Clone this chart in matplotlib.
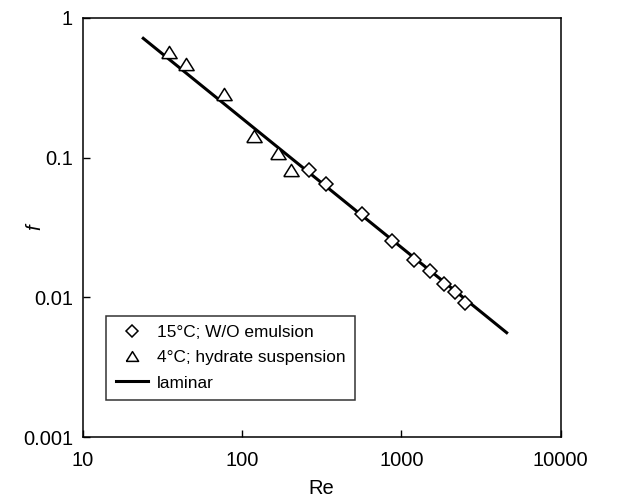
import matplotlib
matplotlib.use("Agg")
import matplotlib.pyplot as plt
from matplotlib.ticker import NullLocator

plt.rcParams['font.family'] = ['Liberation Sans', 'DejaVu Sans']

# dados
re_emulsao = [262, 336, 570, 873, 1200, 1513, 1860, 2171, 2508]
f_emulsao = [0.0815, 0.0648, 0.0394, 0.0255, 0.01854, 0.01554, 0.01243, 0.0110, 0.00909]

re_hidrato = [35, 44.3, 76.7, 119, 169, 202]
f_hidrato = [0.571, 0.469, 0.286, 0.1427, 0.1073, 0.0815]

re_laminar = [24.0, 4580]
f_laminar = [0.712, 0.0056]

x_ticks = [10, 100, 1000, 10000]
x_labels = ['10', '100', '1000', '10000']
y_ticks = [0.001, 0.01, 0.1, 1]
y_labels = ['0.001', '0.01', '0.1', '1']

fig = plt.figure(figsize=(6.23, 4.96), dpi=100)
ax = fig.add_axes([0.1327, 0.1183, 0.7673, 0.846])

tri = [(-1, -0.8), (1, -0.8), (0, 0.8), (-1, -0.8)]

ax.plot(re_emulsao, f_emulsao, linestyle='none', marker='D', markersize=7.3,
        markerfacecolor='white', markeredgecolor='black', markeredgewidth=1.1,
        label='15°C; W/O emulsion', zorder=3)
ax.plot(re_hidrato, f_hidrato, linestyle='none', marker=tri, markersize=11,
        markerfacecolor='white', markeredgecolor='black', markeredgewidth=1.1,
        label='4°C; hydrate suspension', zorder=3)
ax.plot(re_laminar, f_laminar, color='black', linewidth=2.2, label='laminar', zorder=2)

ax.set_xscale('log')
ax.set_yscale('log')
ax.set_xlim(10, 10000)
ax.set_ylim(0.001, 1)
ax.set_xticks(x_ticks, x_labels)
ax.set_yticks(y_ticks, y_labels)
ax.xaxis.set_minor_locator(NullLocator())
ax.yaxis.set_minor_locator(NullLocator())
ax.tick_params(direction='in', length=5, width=1, labelsize=14.5,
               top=False, right=False)
ax.tick_params(axis='x', pad=10)
ax.tick_params(axis='y', pad=7)

for s in ax.spines.values():
    s.set_linewidth(1.1)

ax.set_xlabel('Re', fontsize=14.5, labelpad=6)
ax.set_ylabel('f', fontsize=14.5, style='italic')
ax.yaxis.set_label_coords(-0.080, 0.5)

leg = ax.legend(loc='lower left', bbox_to_anchor=(0.049, 0.089), borderaxespad=0,
                fontsize=12.4, frameon=True, fancybox=False, edgecolor='black',
                markerscale=0.8, handlelength=1.9, handletextpad=0.5,
                labelspacing=0.58, borderpad=0.55)
leg.get_frame().set_linewidth(1.1)

fig.savefig('out.png', dpi=100)
